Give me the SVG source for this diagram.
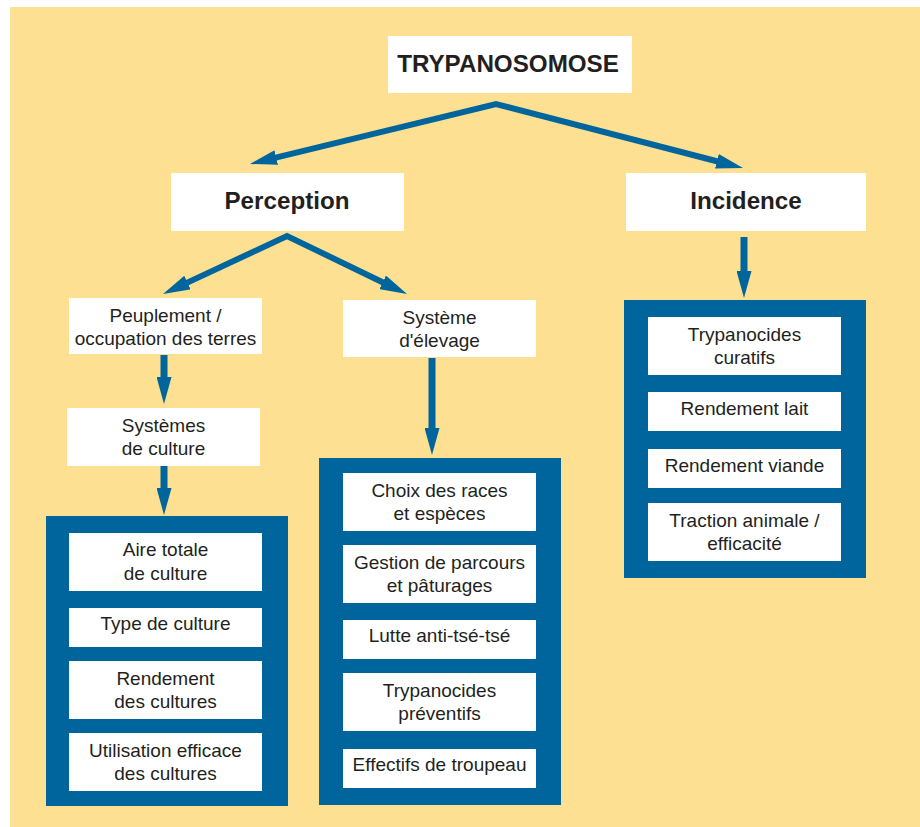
<svg xmlns="http://www.w3.org/2000/svg" width="920" height="827" viewBox="0 0 920 827">
<defs>
<style>
.bg{fill:#FDE091}
.w{fill:#FFFFFF}
.panel{fill:#00659C}
.t{font-family:"Liberation Sans",Arial,Helvetica,sans-serif;font-size:19px;fill:#231F20;text-anchor:middle}
.b{font-family:"Liberation Sans",Arial,Helvetica,sans-serif;font-size:24.2px;font-weight:bold;fill:#231F20;text-anchor:middle}
.ar{fill:none;stroke:#00659C;stroke-width:6;stroke-linejoin:miter;stroke-miterlimit:10}
.av{fill:none;stroke:#00659C;stroke-width:7}
</style>
<marker id="ah" viewBox="0 0 27 15" markerUnits="userSpaceOnUse" markerWidth="27" markerHeight="15" refX="9" refY="7.5" orient="auto-start-reverse">
<path d="M0,0 L27,7.5 L0,15 z" fill="#00659C"/>
</marker>
</defs>
<rect class="bg" x="10" y="7" width="910" height="820"/>

<g id="connectors">
<path class="ar" d="M267.5,159.7 L496,104 L725.6,163.5" marker-start="url(#ah)" marker-end="url(#ah)"/>
<path class="ar" d="M179.3,286.4 L287,236 L390.8,286.2" marker-start="url(#ah)" marker-end="url(#ah)"/>
<line class="av" x1="164" y1="355" x2="164" y2="386" marker-end="url(#ah)"/>
<line class="av" x1="164" y1="466" x2="164" y2="497" marker-end="url(#ah)"/>
<line class="av" x1="432" y1="358" x2="432" y2="437" marker-end="url(#ah)"/>
<line class="av" x1="744" y1="237" x2="744" y2="280" marker-end="url(#ah)"/>
</g>

<g id="trypanosomose">
<rect class="w" x="388" y="36" width="244" height="57"/>
<text class="b" x="508" y="71.5">TRYPANOSOMOSE</text>
</g>
<g id="perception">
<rect class="w" x="171" y="173" width="233" height="58"/>
<text class="b" x="287" y="209">Perception</text>
</g>
<g id="incidence">
<rect class="w" x="626" y="173" width="240" height="58"/>
<text class="b" x="746" y="209">Incidence</text>
</g>
<g id="peuplement">
<rect class="w" x="69" y="298" width="193" height="56"/>
<text class="t" x="165.5" y="322">Peuplement /</text>
<text class="t" x="165.5" y="345">occupation des terres</text>
</g>
<g id="systeme-elevage">
<rect class="w" x="343" y="300" width="193" height="57"/>
<text class="t" x="439.5" y="324">Système</text>
<text class="t" x="439.5" y="347">d'élevage</text>
</g>
<g id="systemes-culture">
<rect class="w" x="67" y="408" width="193" height="58"/>
<text class="t" x="163.5" y="432">Systèmes</text>
<text class="t" x="163.5" y="455">de culture</text>
</g>

<g id="panel-culture">
<rect class="panel" x="46" y="516" width="242" height="290"/>
<g id="aire-totale">
<rect class="w" x="69" y="533" width="193" height="58"/>
<text class="t" x="165.5" y="556">Aire totale</text>
<text class="t" x="165.5" y="580">de culture</text>
</g>
<g id="type-culture">
<rect class="w" x="69" y="608" width="193" height="39"/>
<text class="t" x="165.5" y="630">Type de culture</text>
</g>
<g id="rendement-cultures">
<rect class="w" x="69" y="661" width="193" height="58"/>
<text class="t" x="165.5" y="685">Rendement</text>
<text class="t" x="165.5" y="708">des cultures</text>
</g>
<g id="utilisation">
<rect class="w" x="69" y="733" width="193" height="58"/>
<text class="t" x="165.5" y="757">Utilisation efficace</text>
<text class="t" x="165.5" y="780">des cultures</text>
</g>
</g>

<g id="panel-elevage">
<rect class="panel" x="319" y="458" width="242" height="347"/>
<g id="choix-races">
<rect class="w" x="343" y="473" width="193" height="58"/>
<text class="t" x="439.5" y="497">Choix des races</text>
<text class="t" x="439.5" y="520">et espèces</text>
</g>
<g id="gestion">
<rect class="w" x="343" y="545" width="193" height="58"/>
<text class="t" x="439.5" y="569">Gestion de parcours</text>
<text class="t" x="439.5" y="592">et pâturages</text>
</g>
<g id="lutte">
<rect class="w" x="343" y="620" width="193" height="39"/>
<text class="t" x="439.5" y="642">Lutte anti-tsé-tsé</text>
</g>
<g id="trypanocides-preventifs">
<rect class="w" x="343" y="673" width="193" height="58"/>
<text class="t" x="439.5" y="697">Trypanocides</text>
<text class="t" x="439.5" y="720">préventifs</text>
</g>
<g id="effectifs">
<rect class="w" x="343" y="749" width="193" height="39"/>
<text class="t" x="439.5" y="771">Effectifs de troupeau</text>
</g>
</g>

<g id="panel-incidence">
<rect class="panel" x="624" y="300" width="242" height="278"/>
<g id="trypanocides-curatifs">
<rect class="w" x="648" y="317" width="193" height="58"/>
<text class="t" x="744.5" y="341">Trypanocides</text>
<text class="t" x="744.5" y="364">curatifs</text>
</g>
<g id="rendement-lait">
<rect class="w" x="648" y="392" width="193" height="39"/>
<text class="t" x="744.5" y="415">Rendement lait</text>
</g>
<g id="rendement-viande">
<rect class="w" x="648" y="449" width="193" height="39"/>
<text class="t" x="744.5" y="472">Rendement viande</text>
</g>
<g id="traction">
<rect class="w" x="648" y="503" width="193" height="58"/>
<text class="t" x="744.5" y="527">Traction animale /</text>
<text class="t" x="744.5" y="550">efficacité</text>
</g>
</g>
</svg>
